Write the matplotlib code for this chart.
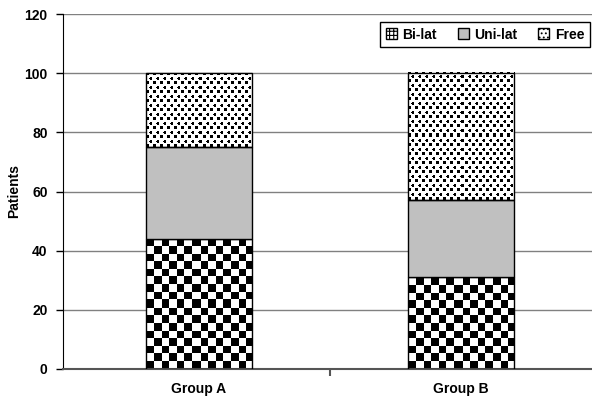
import numpy as np
import matplotlib.pyplot as plt
from matplotlib.patches import Patch

# ===== data =====
groups = ["Group A", "Group B"]
bi_lat = [44, 31]
uni_lat = [31, 26]
free = [25, 43]
yticks = [0, 20, 40, 60, 80, 100, 120]

plt.rcParams['font.family'] = ['Liberation Sans', 'DejaVu Sans']
plt.rcParams['font.weight'] = 'bold'
plt.rcParams['axes.labelweight'] = 'bold'
plt.rcParams['hatch.linewidth'] = 0.8

fig = plt.figure(figsize=(5.92, 4.05), dpi=100)
ax = fig.add_axes([63 / 592, 36 / 405, 529 / 592, 355 / 405])
XLIM = (-0.519, 1.5)
YLIM = (0, 120)
ax.set_xlim(*XLIM)
ax.set_ylim(*YLIM)

x = np.arange(len(groups))
width = 0.405


def checker(h, w, cell=7.6):
    r = (np.arange(h)[:, None] // cell).astype(int)
    c = (np.arange(w)[None, :] // cell).astype(int)
    return ((r + c) % 2).astype(float)


def dotted(h, w):
    # small staggered black dots on white
    tile = np.ones((9, 7))
    tile[0:3, 0:3] = 0
    tile[4:7, 3:6] = 0
    tile[4:7, 3] = 1
    tile[5, 3] = 0
    reps = (h // 9 + 2, w // 7 + 2)
    return np.tile(tile, reps)[:h, :w]


def fill_pattern(bar, kind):
    x0, y0 = bar.get_x(), bar.get_y()
    x1, y1 = x0 + bar.get_width(), y0 + bar.get_height()
    (px0, py0), (px1, py1) = ax.transData.transform([(x0, y0), (x1, y1)])
    w, h = int(round(px1 - px0)), int(round(py1 - py0))
    img = checker(h, w) if kind == "checker" else dotted(h, w)
    ax.imshow(img, cmap="gray", vmin=0, vmax=1, extent=(x0, x1, y0, y1),
              origin="lower", interpolation="nearest", aspect="auto", zorder=2)


bottoms_uni = np.array(bi_lat)
bottoms_free = bottoms_uni + np.array(uni_lat)

b1 = ax.bar(x, bi_lat, width, facecolor="none", edgecolor="black", linewidth=1, zorder=3)
b2 = ax.bar(x, uni_lat, width, bottom=bottoms_uni, facecolor="#c0c0c0",
            edgecolor="black", linewidth=1, zorder=3)
b3 = ax.bar(x, free, width, bottom=bottoms_free, facecolor="none",
            edgecolor="black", linewidth=1, zorder=3)

for bar in b1:
    fill_pattern(bar, "checker")
for bar in b3:
    fill_pattern(bar, "dots")

ax.set_xlim(*XLIM)
ax.set_ylim(*YLIM)

# ===== axes styling =====
ax.set_yticks(yticks)
ax.tick_params(axis="y", labelsize=10, length=5, direction="out", width=1, pad=6)
ax.set_xticks(x)
ax.set_xticklabels(groups, fontsize=10)
ax.tick_params(axis="x", length=0, pad=9)
ax.set_xticks([0.5], minor=True)
ax.tick_params(axis="x", which="minor", length=5, width=1.5, color="#555555")

ax.yaxis.grid(True, color="#808080", linewidth=1, zorder=0)
ax.set_axisbelow(True)
for s in ["top", "right"]:
    ax.spines[s].set_visible(False)
ax.spines["left"].set_color("black")
ax.spines["bottom"].set_color("#555555")
ax.spines["bottom"].set_linewidth(1.5)

ax.set_ylabel("Patients", fontsize=10, fontweight="bold")
ax.yaxis.set_label_coords(-0.080, 0.5)

# ===== legend =====
handles = [
    Patch(facecolor="white", edgecolor="black", hatch="++++", label="Bi-lat"),
    Patch(facecolor="#c0c0c0", edgecolor="black", label="Uni-lat"),
    Patch(facecolor="white", edgecolor="black", hatch="....", label="Free"),
]
leg = ax.legend(handles=handles, loc="upper right", ncol=3,
                bbox_to_anchor=(590 / 592, 1 - 22 / 405), bbox_transform=fig.transFigure,
                borderaxespad=0, fancybox=False, edgecolor="black", framealpha=1,
                handlelength=0.8, handleheight=0.8, handletextpad=0.4,
                columnspacing=1.5, fontsize=10, borderpad=0.4)
leg.get_frame().set_linewidth(1)

fig.savefig("out.png", dpi=100)
